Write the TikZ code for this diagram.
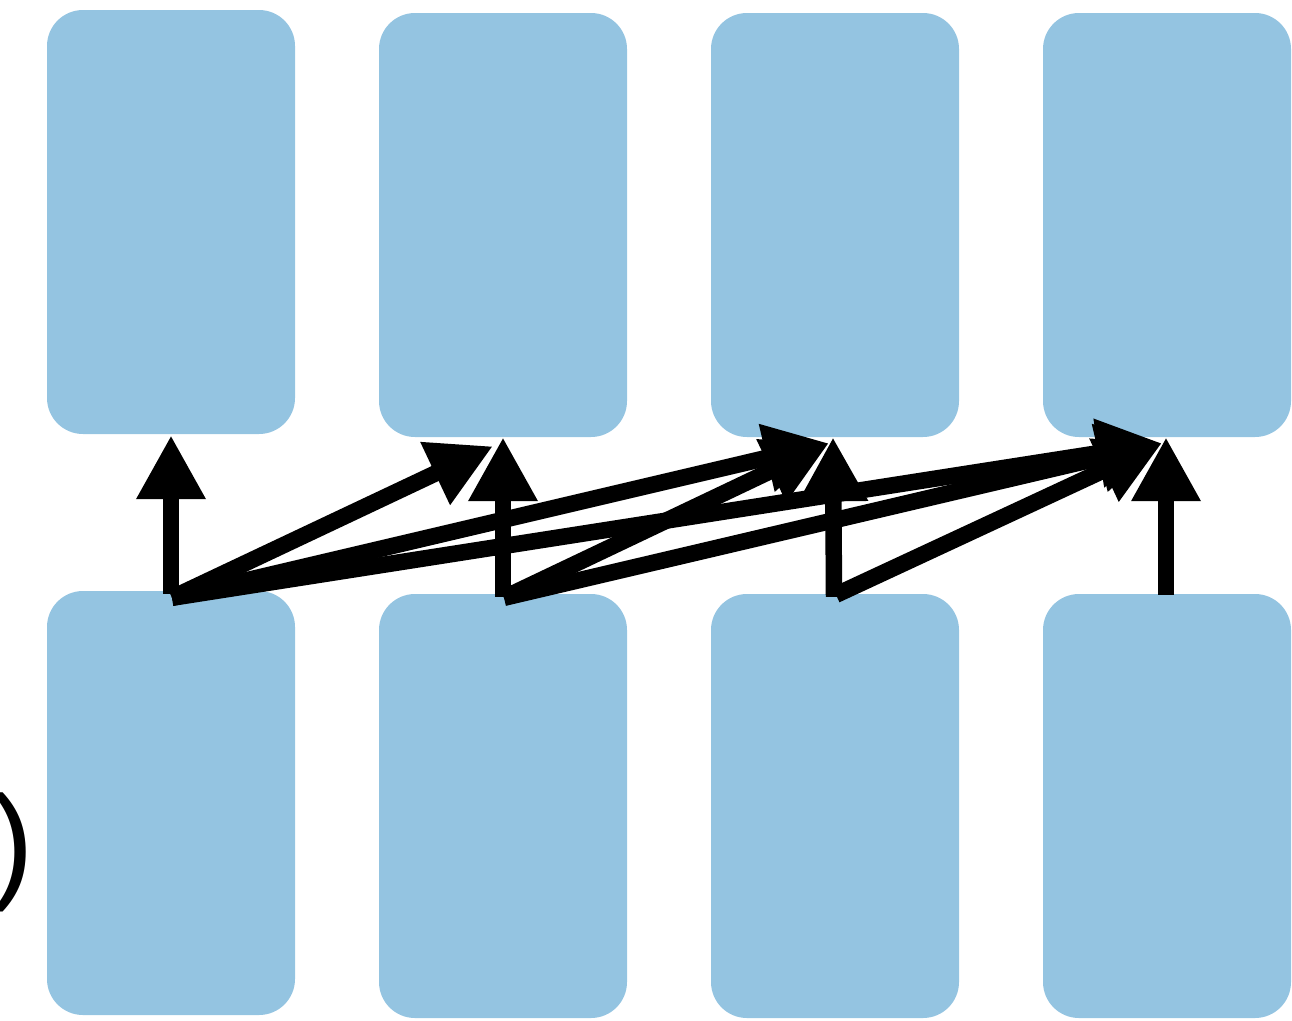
\documentclass[tikz,border=0pt]{standalone}
\usepackage{fontspec}
\newfontfamily\parfont{Liberation Sans}
\usetikzlibrary{arrows.meta,calc}
\definecolor{boxblue}{HTML}{94C4E1}
\begin{document}
\begin{tikzpicture}[x=1pt,y=-1pt,
  blk/.style={fill=boxblue,draw=none,rounded corners=36pt,minimum width=248pt,minimum height=424pt,inner sep=0pt},
  conn/.style={line width=16.5pt,-{Triangle[length=64pt,width=65pt]}}]
\useasboundingbox (0,0) rectangle (1292,1020);
\node[blk] (t1) at (171,222) {};
\node[blk] (t2) at (503,225) {};
\node[blk] (t3) at (835,225) {};
\node[blk] (t4) at (1167,225) {};
\node[blk] (b1) at (171,803) {};
\node[blk] (b2) at (503,806) {};
\node[blk] (b3) at (835,806) {};
\node[blk] (b4) at (1167,806) {};
\node[font=\parfont\fontsize{128}{128}\selectfont,inner sep=0pt,anchor=east] (par) at (34,852) {)};
% vertical arrows
\draw[conn] ($(b1.north)+(0,3)$) -- ($(t1.south)+(0,1)$);
\draw[conn] ($(b2.north)+(0,3)$) -- ($(t2.south)+(0,0)$);
\draw[conn] ($(b3.north)+(-1,3)$) -- ($(t3.south)+(-2,0)$);
\draw[conn] ($(b4.north)+(-1,1)$) -- ($(t4.south)+(-1,0)$);
% diagonal arrows
\draw[conn] ($(b1.north)+(1,7)$) -- ($(t2.south)+(-10,9)$);
\draw[conn] ($(b1.north)+(1,7)$) -- ($(t3.south)+(-6,6)$);
\draw[conn] ($(b1.north)+(1,7)$) -- ($(t4.south)+(-5,6)$);
\draw[conn] ($(b2.north)+(1,4)$) -- ($(t3.south)+(-6,6)$);
\draw[conn] ($(b2.north)+(1,4)$) -- ($(t4.south)+(-5,6)$);
\draw[conn] ($(b3.north)+(1,1)$) -- ($(t4.south)+(-5,6)$);
\end{tikzpicture}
\end{document}
